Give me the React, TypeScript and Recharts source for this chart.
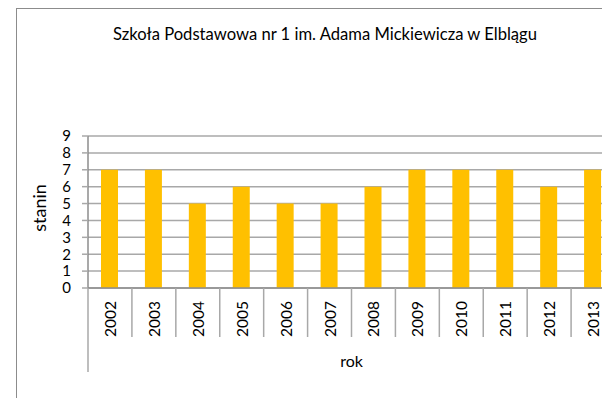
import React from 'react';
import { BarChart, Bar, XAxis, YAxis, CartesianGrid } from 'recharts';

const years = ['2002', '2003', '2004', '2005', '2006', '2007', '2008', '2009', '2010', '2011', '2012', '2013'];
const stanin = [7, 7, 5, 6, 5, 5, 6, 7, 7, 7, 6, 7];
const yTicks = [0, 1, 2, 3, 4, 5, 6, 7, 8, 9];
const title = 'Szkoła Podstawowa nr 1 im. Adama Mickiewicza w Elblągu';
const xLabel = 'rok';
const yLabel = 'stanin';

const data = years.map((y, i) => ({ year: y, value: stanin[i] }));

const FONT = 'Lato, "Liberation Sans", sans-serif';
const GRID = '#a8a8a8';
const AXIS = '#8c8c8c';

const W = 640;
const H = 406;
const M = { top: 136, right: 25, bottom: 34, left: 0 };
const YW = 88;
const XH = 84;
const band = (W - M.left - M.right - YW) / years.length;

const YearTick = (props: any) => {
  const { x, y, payload, index } = props;
  const half = payload && payload.offset ? payload.offset : band / 2;
  return (
    <g>
      <line x1={x - half} x2={x - half} y1={y} y2={y + (index === 0 ? 84 : 49)} stroke={GRID} strokeWidth={1.5} />
      <text
        transform={`translate(${x},${y + 31}) rotate(-90)`}
        textAnchor="middle"
        dominantBaseline="central"
        fontFamily={FONT}
        fontSize={15.5}
        fill="#000"
      >
        {payload.value}
      </text>
    </g>
  );
};

export default function App() {
  return (
    <div style={{ position: 'relative', width: 610, height: 406, margin: -8, overflow: 'hidden', background: '#fff' }}>
      <div
        style={{
          position: 'absolute',
          left: 16,
          top: 8,
          width: 618,
          height: 420,
          borderLeft: '1px solid #8c8c8c',
          borderTop: '1px solid #8c8c8c',
        }}
      />
      <div
        style={{
          position: 'absolute',
          left: 16,
          width: 618,
          top: 24,
          textAlign: 'center',
          fontFamily: FONT,
          fontSize: 16.6,
          color: '#000',
          whiteSpace: 'nowrap',
        }}
      >
        {title}
      </div>
      <div style={{ position: 'absolute', left: 0, top: 0 }}>
        <BarChart width={W} height={H} data={data} margin={M}>
          <CartesianGrid horizontal vertical={false} stroke={GRID} strokeWidth={1.5} />
          <XAxis
            dataKey="year"
            height={XH}
            tickLine={false}
            tickSize={0}
            tickMargin={0}
            axisLine={{ stroke: AXIS, strokeWidth: 1.5 }}
            interval={0}
            tick={<YearTick />}
            label={(p: any) => {
              const vb = p.viewBox || {};
              return (
                <text x={vb.x + vb.width / 2} y={vb.y + 79} textAnchor="middle" fontFamily={FONT} fontSize={16} fill="#000">
                  {xLabel}
                </text>
              );
            }}
          />
          <YAxis
            width={YW}
            domain={[0, 9]}
            ticks={yTicks}
            interval={0}
            tickSize={6}
            tickMargin={11}
            tickLine={{ stroke: GRID, strokeWidth: 1.5 }}
            axisLine={{ stroke: AXIS, strokeWidth: 1.5 }}
            tick={{ fontFamily: FONT, fontSize: 15, fill: '#000' }}
            label={(p: any) => {
              const vb = p.viewBox || {};
              const cx = 39;
              const cy = vb.y + vb.height / 2 - 4;
              return (
                <text
                  transform={`translate(${cx},${cy}) rotate(-90)`}
                  textAnchor="middle"
                  dominantBaseline="central"
                  fontFamily={FONT}
                  fontSize={18}
                  fill="#000"
                >
                  {yLabel}
                </text>
              );
            }}
          />
          <Bar dataKey="value" fill="#FFC000" barSize={17} isAnimationActive={false} />
        </BarChart>
      </div>
    </div>
  );
}
